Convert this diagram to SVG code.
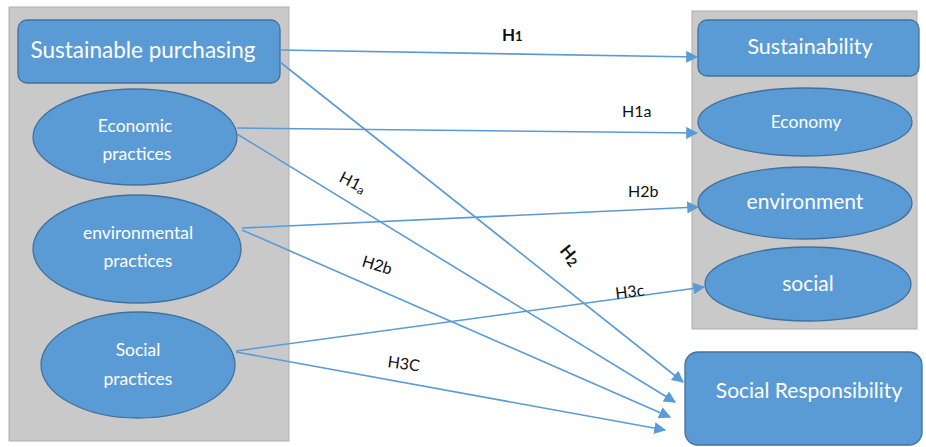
<svg xmlns="http://www.w3.org/2000/svg" width="926" height="447" viewBox="0 0 926 447">
<defs>
<style>
.panel{fill:#c9c9c9;stroke:#b0b0b0;stroke-width:1}
.node{fill:#5b9bd5;stroke:#41719c;stroke-width:1.3}
.nt{fill:#ffffff;font-family:Lato,"Liberation Sans",sans-serif;text-anchor:middle}
.edge{stroke:#5b9bd5;stroke-width:1.6;fill:none;marker-end:url(#arr)}
.lbl{fill:#111111;font-family:Lato,"Liberation Sans",sans-serif}
.b{font-weight:bold}
</style>
<marker id="arr" viewBox="0 0 10 10" refX="9" refY="5" markerWidth="7.5" markerHeight="7.5" markerUnits="strokeWidth" orient="auto">
<path d="M0,0 L10,5 L0,10 z" fill="#5b9bd5"/>
</marker>
</defs>
<rect width="926" height="447" fill="#ffffff"/>
<rect class="panel" x="9" y="7" width="280" height="434"/>
<rect class="panel" x="692" y="11" width="225" height="318"/>
<g id="n-sustainable-purchasing">
<rect class="node" x="18" y="20" width="262" height="63" rx="9"/>
<text class="nt" x="143" y="58" font-size="22.5">Sustainable purchasing</text>
</g>
<g id="n-economic">
<ellipse class="node" cx="135" cy="137" rx="102" ry="48"/>
<text class="nt" x="135" y="132" font-size="17.5">Economic</text>
<text class="nt" x="137" y="160" font-size="17.5">practices</text>
</g>
<g id="n-environmental">
<ellipse class="node" cx="137" cy="249" rx="104" ry="54"/>
<text class="nt" x="138" y="239" font-size="17.5">environmental</text>
<text class="nt" x="138" y="267" font-size="17.5">practices</text>
</g>
<g id="n-social-practices">
<ellipse class="node" cx="138" cy="365" rx="97" ry="53"/>
<text class="nt" x="138" y="356" font-size="17.5">Social</text>
<text class="nt" x="138" y="385" font-size="17.5">practices</text>
</g>
<g id="n-sustainability">
<rect class="node" x="698" y="20" width="221" height="56" rx="9"/>
<text class="nt" x="810" y="54" font-size="21.5">Sustainability</text>
</g>
<g id="n-economy">
<ellipse class="node" cx="805" cy="122" rx="107" ry="34"/>
<text class="nt" x="806" y="128" font-size="17.5">Economy</text>
</g>
<g id="n-environment">
<ellipse class="node" cx="805" cy="203" rx="107" ry="36"/>
<text class="nt" x="805" y="209" font-size="21">environment</text>
</g>
<g id="n-social">
<ellipse class="node" cx="808" cy="284" rx="103" ry="37"/>
<text class="nt" x="808" y="291" font-size="21">social</text>
</g>
<g id="n-social-responsibility">
<rect class="node" x="685" y="352" width="237" height="93" rx="13"/>
<text class="nt" x="809" y="398" font-size="21">Social Responsibility</text>
</g>
<g id="connectors">
<line class="edge" x1="280" y1="50" x2="697" y2="57"/>
<line class="edge" x1="280" y1="62" x2="683" y2="382"/>
<line class="edge" x1="237" y1="128" x2="697" y2="133"/>
<line class="edge" x1="237" y1="134" x2="675" y2="402"/>
<line class="edge" x1="242" y1="228" x2="698" y2="207"/>
<line class="edge" x1="242" y1="230" x2="670" y2="417"/>
<line class="edge" x1="236" y1="351" x2="704" y2="287"/>
<line class="edge" x1="236" y1="352" x2="665" y2="430"/>
</g>
<g id="labels">
<text class="lbl b" x="502" y="41" font-size="17">H<tspan font-size="13">1</tspan></text>
<text class="lbl" x="622" y="117" font-size="16">H1a</text>
<text class="lbl" x="628" y="197" font-size="16">H2b</text>
<text class="lbl" font-size="16" transform="translate(338,181) rotate(27)">H1<tspan font-size="12" dy="2">a</tspan></text>
<text class="lbl" font-size="16" transform="translate(361,266) rotate(17)">H2b</text>
<text class="lbl b" font-size="17" transform="translate(559,251) rotate(50)">H<tspan font-size="13" dy="2">2</tspan></text>
<text class="lbl" font-size="16" transform="translate(616,299) rotate(-7)">H3c</text>
<text class="lbl" font-size="16" transform="translate(387,367) rotate(8)">H3C</text>
</g>
</svg>
